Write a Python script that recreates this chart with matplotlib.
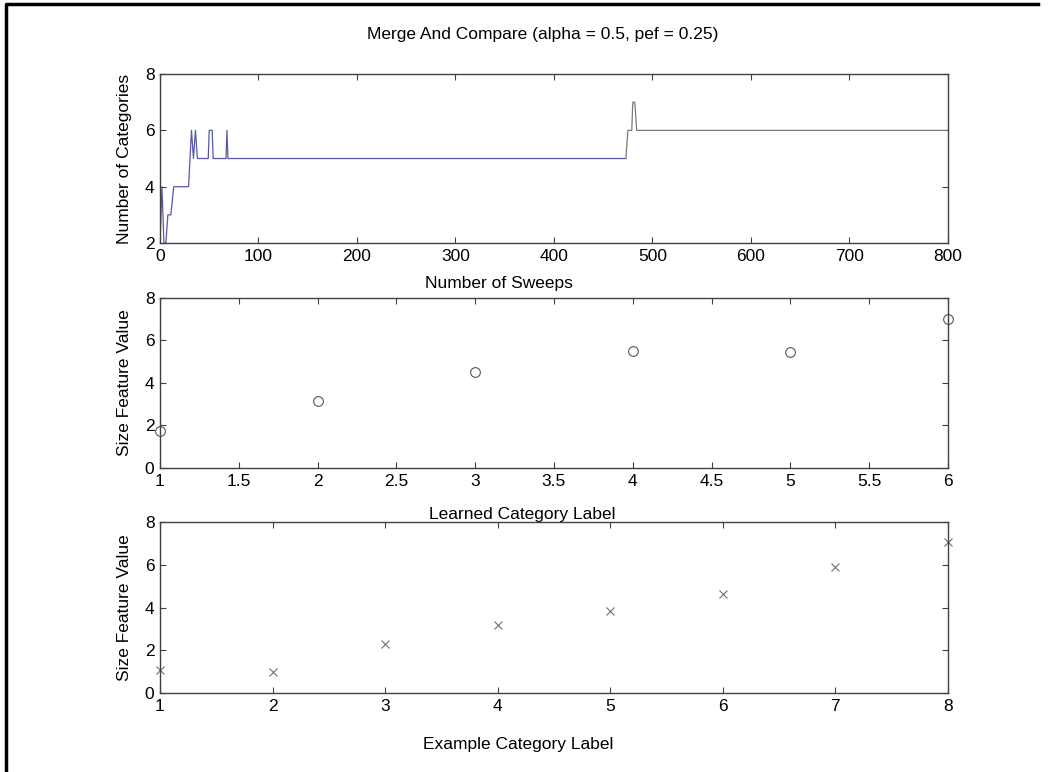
import matplotlib
matplotlib.use('Agg')
import matplotlib.pyplot as plt
from matplotlib.lines import Line2D

plt.rcParams['font.family'] = ['Liberation Sans', 'DejaVu Sans']
plt.rcParams['font.size'] = 12.5

# number of learned categories over the sweeps
sweeps = [0, 2, 4, 6, 8, 11, 14, 29, 32, 34, 36, 38, 49, 50, 53, 54, 67, 68, 69, 473,
          475, 479, 480, 482, 484, 800]
n_categories = [2, 4, 2, 2, 3, 3, 4, 4, 6, 5, 6, 5, 5, 6, 6, 5, 5, 6, 5, 5,
                6, 6, 7, 7, 6, 6]
split_idx = 19  # blue part ends here, the rest is drawn grey

# size feature value per learned category
learned_labels = [1, 2, 3, 4, 5, 6]
learned_sizes = [1.75, 3.15, 4.5, 5.5, 5.45, 7.0]

# size feature value per example category
example_labels = [1, 2, 3, 4, 5, 6, 7, 8]
example_sizes = [1.1, 1.0, 2.3, 3.2, 3.85, 4.65, 5.9, 7.05]

axis_col = '#404040'

def style_axes(ax):
    ax.tick_params(direction='in', length=4, width=0.8, top=True, right=True,
                   colors=axis_col, labelcolor='black', pad=4)
    for s in ax.spines.values():
        s.set_color(axis_col)
        s.set_linewidth(1.0)

fig = plt.figure(figsize=(10.49, 7.72), dpi=100)

# top: number of categories
ax1 = fig.add_axes([0.1525, 0.6852, 0.7512, 0.2189])
ax1.plot(sweeps[:split_idx + 1], n_categories[:split_idx + 1], color='#5858a8', lw=0.9)
ax1.plot(sweeps[split_idx:], n_categories[split_idx:], color='#7a7a7a', lw=0.9)
ax1.set_xlim(0, 800)
ax1.set_ylim(2, 8)
ax1.set_xticks(range(0, 801, 100))
ax1.set_yticks([2, 4, 6, 8])
ax1.set_xlabel('Number of Sweeps')
ax1.set_ylabel('Number of Categories')
ax1.xaxis.set_label_coords(0.43, -0.195)
ax1.yaxis.set_label_coords(-0.036, 0.5)
style_axes(ax1)

# middle: learned categories
ax2 = fig.add_axes([0.1525, 0.3938, 0.7512, 0.2202])
ax2.plot(learned_labels, learned_sizes, 'o', mfc='none', mec='#555555', ms=7,
         mew=0.8, clip_on=False)
ax2.set_xlim(1, 6)
ax2.set_ylim(0, 8)
ax2.set_xticks([1, 1.5, 2, 2.5, 3, 3.5, 4, 4.5, 5, 5.5, 6])
ax2.set_xticklabels(['1', '1.5', '2', '2.5', '3', '3.5', '4', '4.5', '5', '5.5', '6'])
ax2.set_yticks([0, 2, 4, 6, 8])
ax2.set_xlabel('Learned Category Label')
ax2.set_ylabel('Size Feature Value')
ax2.xaxis.set_label_coords(0.46, -0.232)
ax2.yaxis.set_label_coords(-0.036, 0.5)
style_axes(ax2)

# bottom: example categories (drawn over the middle x label)
ax3 = fig.add_axes([0.1525, 0.1023, 0.7512, 0.2215])
ax3.plot(example_labels, example_sizes, 'x', color='#707070', ms=5.5, mew=0.8,
         clip_on=False)
ax3.set_xlim(1, 8)
ax3.set_ylim(0, 8)
ax3.set_xticks(range(1, 9))
ax3.set_yticks([0, 2, 4, 6, 8])
ax3.set_xlabel('Example Category Label')
ax3.set_ylabel('Size Feature Value')
ax3.xaxis.set_label_coords(0.455, -0.26)
ax3.yaxis.set_label_coords(-0.036, 0.5)
style_axes(ax3)

fig.text(543 / 1049, 1 - 35 / 772, 'Merge And Compare (alpha = 0.5, pef = 0.25)',
         ha='center', va='center', fontsize=12.5)

# frame around the figure (left and top edges)
fig.add_artist(Line2D([6 / 1049, 6 / 1049, 1038 / 1049], [0, 1 - 4 / 772, 1 - 4 / 772],
                      transform=fig.transFigure, color='black', lw=2.5))

fig.savefig('out.png', dpi=100)
